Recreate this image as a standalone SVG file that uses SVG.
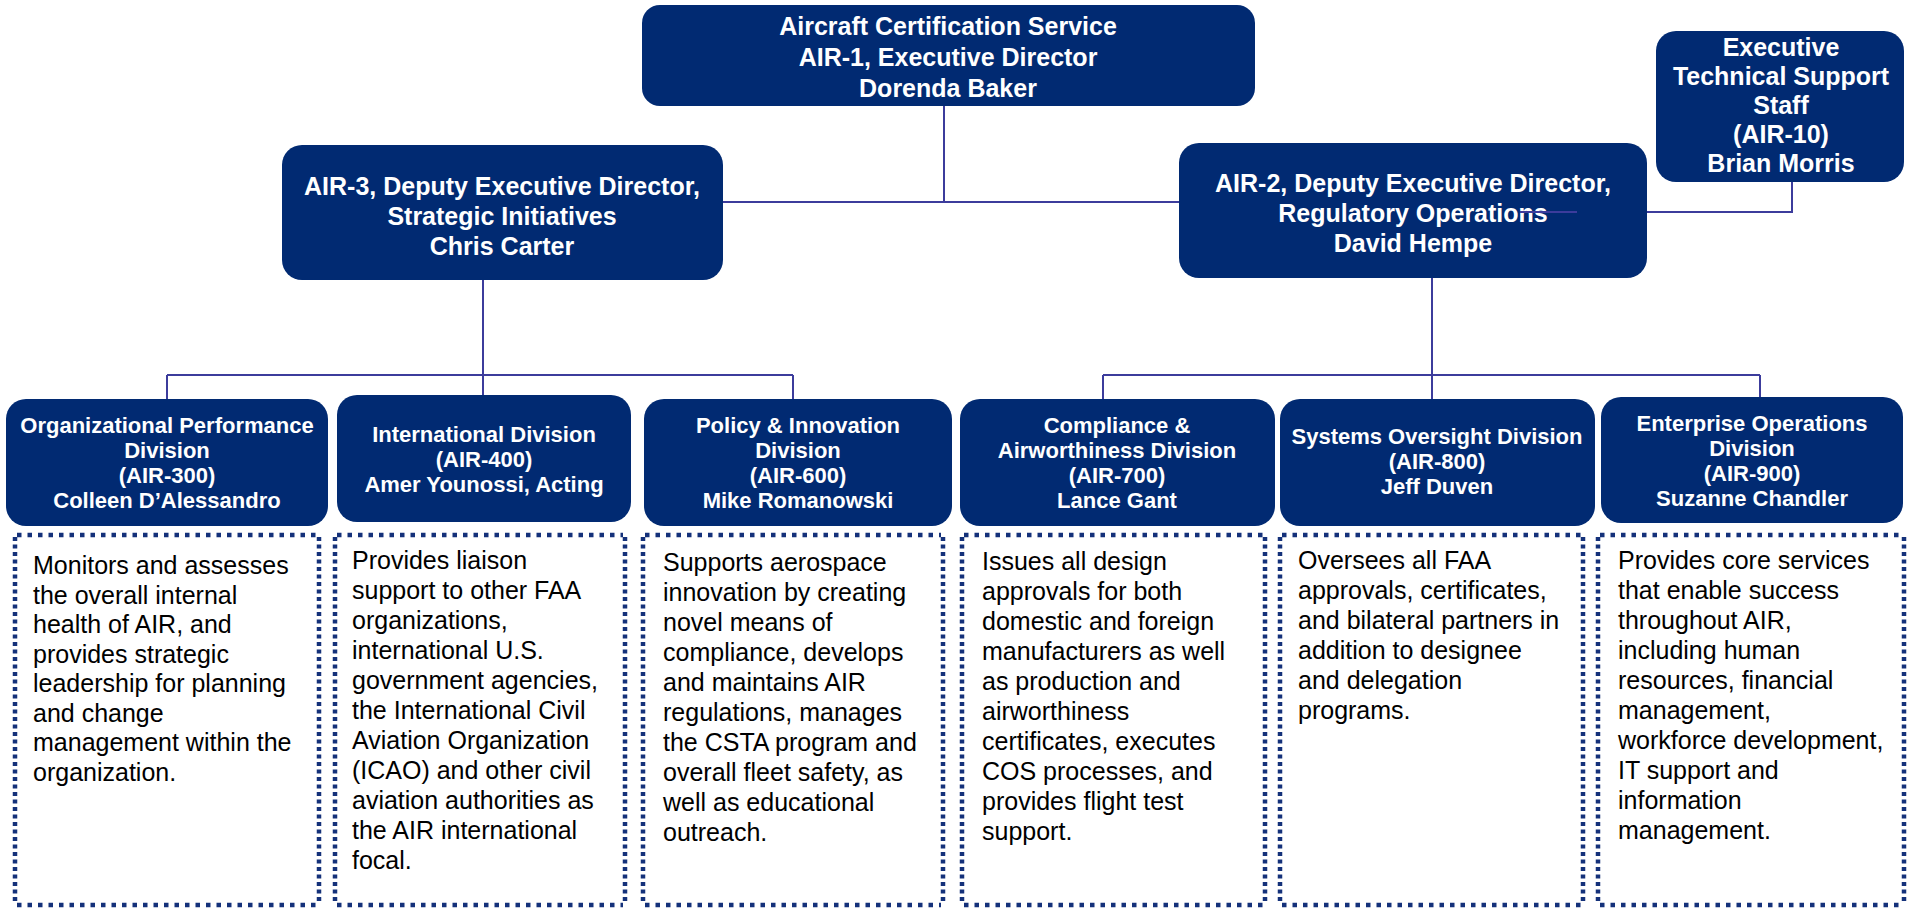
<svg xmlns="http://www.w3.org/2000/svg" width="1907" height="908" viewBox="0 0 1907 908">
<style>
.box{fill:#012a72}
.t{fill:#ffffff;font-family:"Liberation Sans",Arial,sans-serif;font-weight:bold;text-anchor:middle}
.t25{font-size:25px}
.t22{font-size:22px}
.d{fill:#000000;font-family:"Liberation Sans",Arial,sans-serif;font-size:25px}
.dh{fill:none;stroke:#14317a;stroke-width:4.5;stroke-dasharray:4.5 6}
.dv{fill:none;stroke:#14317a;stroke-width:4.5;stroke-dasharray:4 3.5}
.c{fill:none;stroke:#3c3c9c;stroke-width:2}
</style>
<rect width="1907" height="908" fill="#ffffff"/>

<g id="n-air1">
<rect class="box" x="642" y="5" width="613" height="101" rx="18"/>
<text class="t t25" x="948" y="35">Aircraft Certification Service</text>
<text class="t t25" x="948" y="66">AIR-1, Executive Director</text>
<text class="t t25" x="948" y="97">Dorenda Baker</text>
</g>

<g id="n-air3">
<rect class="box" x="282" y="145" width="441" height="135" rx="20"/>
<text class="t t25" x="502" y="195">AIR-3, Deputy Executive Director,</text>
<text class="t t25" x="502" y="225">Strategic Initiatives</text>
<text class="t t25" x="502" y="255">Chris Carter</text>
</g>

<g id="n-air2">
<rect class="box" x="1179" y="143" width="468" height="135" rx="20"/>
<text class="t t25" x="1413" y="192">AIR-2, Deputy Executive Director,</text>
<text class="t t25" x="1413" y="222">Regulatory Operations</text>
<text class="t t25" x="1413" y="252">David Hempe</text>
</g>

<g id="n-air10">
<rect class="box" x="1656" y="31" width="248" height="151" rx="20"/>
<text class="t t25" x="1781" y="56">Executive</text>
<text class="t t25" x="1781" y="85">Technical Support</text>
<text class="t t25" x="1781" y="114">Staff</text>
<text class="t t25" x="1781" y="143">(AIR-10)</text>
<text class="t t25" x="1781" y="172">Brian Morris</text>
</g>

<g id="n-air300">
<rect class="box" x="6" y="399" width="322" height="127" rx="20"/>
<text class="t t22" x="167" y="433">Organizational Performance</text>
<text class="t t22" x="167" y="458">Division</text>
<text class="t t22" x="167" y="483">(AIR-300)</text>
<text class="t t22" x="167" y="508">Colleen D’Alessandro</text>
</g>

<g id="n-air400">
<rect class="box" x="337" y="395" width="294" height="127" rx="20"/>
<text class="t t22" x="484" y="442">International Division</text>
<text class="t t22" x="484" y="467">(AIR-400)</text>
<text class="t t22" x="484" y="492">Amer Younossi, Acting</text>
</g>

<g id="n-air600">
<rect class="box" x="644" y="399" width="308" height="127" rx="20"/>
<text class="t t22" x="798" y="433">Policy &amp; Innovation</text>
<text class="t t22" x="798" y="458">Division</text>
<text class="t t22" x="798" y="483">(AIR-600)</text>
<text class="t t22" x="798" y="508">Mike Romanowski</text>
</g>

<g id="n-air700">
<rect class="box" x="960" y="399" width="315" height="127" rx="20"/>
<text class="t t22" x="1117" y="433">Compliance &amp;</text>
<text class="t t22" x="1117" y="458">Airworthiness Division</text>
<text class="t t22" x="1117" y="483">(AIR-700)</text>
<text class="t t22" x="1117" y="508">Lance Gant</text>
</g>

<g id="n-air800">
<rect class="box" x="1280" y="399" width="315" height="127" rx="20"/>
<text class="t t22" x="1437" y="444">Systems Oversight Division</text>
<text class="t t22" x="1437" y="469">(AIR-800)</text>
<text class="t t22" x="1437" y="494">Jeff Duven</text>
</g>

<g id="n-air900">
<rect class="box" x="1601" y="397" width="302" height="126" rx="20"/>
<text class="t t22" x="1752" y="431">Enterprise Operations</text>
<text class="t t22" x="1752" y="456">Division</text>
<text class="t t22" x="1752" y="481">(AIR-900)</text>
<text class="t t22" x="1752" y="506">Suzanne Chandler</text>
</g>

<g id="d-air300">
<path class="dh" d="M17 535H317M17 905H317"/>
<path class="dv" d="M15 537V903M319 537V903"/>
<text class="d" x="33" y="574">Monitors and assesses</text>
<text class="d" x="33" y="603.5">the overall internal</text>
<text class="d" x="33" y="633">health of AIR, and</text>
<text class="d" x="33" y="662.5">provides strategic</text>
<text class="d" x="33" y="692">leadership for planning</text>
<text class="d" x="33" y="721.5">and change</text>
<text class="d" x="33" y="751">management within the</text>
<text class="d" x="33" y="780.5">organization.</text>
</g>

<g id="d-air400">
<path class="dh" d="M337 535H623M337 905H623"/>
<path class="dv" d="M335 537V903M625 537V903"/>
<text class="d" x="352" y="569">Provides liaison</text>
<text class="d" x="352" y="599">support to other FAA</text>
<text class="d" x="352" y="629">organizations,</text>
<text class="d" x="352" y="659">international U.S.</text>
<text class="d" x="352" y="689">government agencies,</text>
<text class="d" x="352" y="719">the International Civil</text>
<text class="d" x="352" y="749">Aviation Organization</text>
<text class="d" x="352" y="779">(ICAO) and other civil</text>
<text class="d" x="352" y="809">aviation authorities as</text>
<text class="d" x="352" y="839">the AIR international</text>
<text class="d" x="352" y="869">focal.</text>
</g>

<g id="d-air600">
<path class="dh" d="M645 535H941M645 905H941"/>
<path class="dv" d="M643 537V903M943 537V903"/>
<text class="d" x="663" y="571">Supports aerospace</text>
<text class="d" x="663" y="601">innovation by creating</text>
<text class="d" x="663" y="631">novel means of</text>
<text class="d" x="663" y="661">compliance, develops</text>
<text class="d" x="663" y="691">and maintains AIR</text>
<text class="d" x="663" y="721">regulations, manages</text>
<text class="d" x="663" y="751">the CSTA program and</text>
<text class="d" x="663" y="781">overall fleet safety, as</text>
<text class="d" x="663" y="811">well as educational</text>
<text class="d" x="663" y="841">outreach.</text>
</g>

<g id="d-air700">
<path class="dh" d="M964 535H1263M964 905H1263"/>
<path class="dv" d="M962 537V903M1265 537V903"/>
<text class="d" x="982" y="570">Issues all design</text>
<text class="d" x="982" y="600">approvals for both</text>
<text class="d" x="982" y="630">domestic and foreign</text>
<text class="d" x="982" y="660">manufacturers as well</text>
<text class="d" x="982" y="690">as production and</text>
<text class="d" x="982" y="720">airworthiness</text>
<text class="d" x="982" y="750">certificates, executes</text>
<text class="d" x="982" y="780">COS processes, and</text>
<text class="d" x="982" y="810">provides flight test</text>
<text class="d" x="982" y="840">support.</text>
</g>

<g id="d-air800">
<path class="dh" d="M1282 535H1581M1282 905H1581"/>
<path class="dv" d="M1280 537V903M1583 537V903"/>
<text class="d" x="1298" y="569">Oversees all FAA</text>
<text class="d" x="1298" y="599">approvals, certificates,</text>
<text class="d" x="1298" y="629">and bilateral partners in</text>
<text class="d" x="1298" y="659">addition to designee</text>
<text class="d" x="1298" y="689">and delegation</text>
<text class="d" x="1298" y="719">programs.</text>
</g>

<g id="d-air900">
<path class="dh" d="M1600 535H1903M1600 905H1903"/>
<path class="dv" d="M1598 537V903M1904 537V903"/>
<text class="d" x="1618" y="569">Provides core services</text>
<text class="d" x="1618" y="599">that enable success</text>
<text class="d" x="1618" y="629">throughout AIR,</text>
<text class="d" x="1618" y="659">including human</text>
<text class="d" x="1618" y="689">resources, financial</text>
<text class="d" x="1618" y="719">management,</text>
<text class="d" x="1618" y="749">workforce development,</text>
<text class="d" x="1618" y="779">IT support and</text>
<text class="d" x="1618" y="809">information</text>
<text class="d" x="1618" y="839">management.</text>
</g>

<g id="connectors">
<path class="c" d="M944 106V202M723 202H1179"/>
<path class="c" d="M1792 182V212H1647M1520 212H1577"/>
<path class="c" d="M483 280V375M167 375H793M167 375V399M483 375V395M793 375V399"/>
<path class="c" d="M1432 278V375M1103 375H1760M1103 375V399M1432 375V399M1760 375V397"/>
</g>
</svg>
